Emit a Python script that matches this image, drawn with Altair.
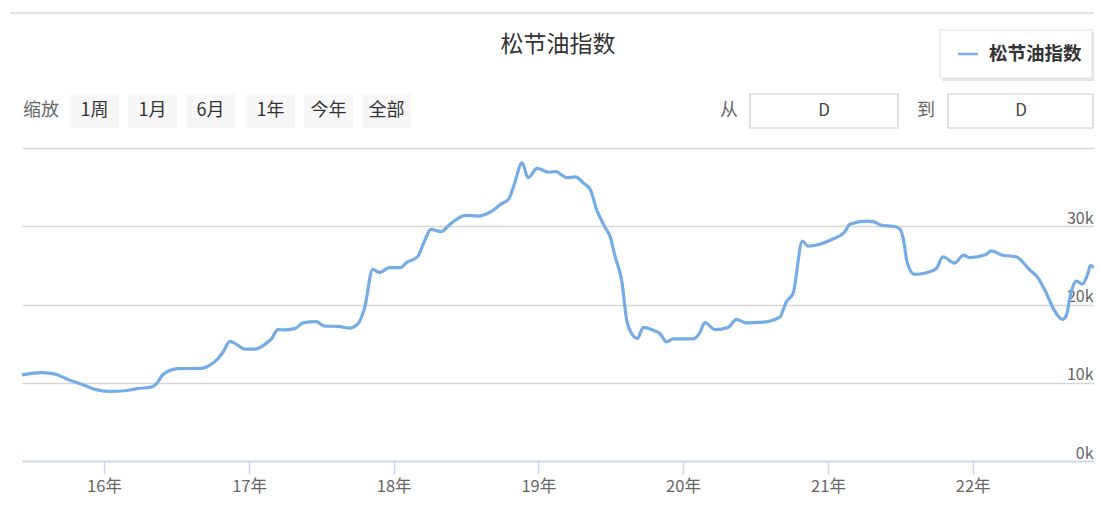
import altair as alt
import pandas as pd

FONT = "Noto Sans CJK SC"

# ---- data (decimal year, index value in thousands) ----
t_years = [
    2015.433, 2015.571, 2015.663, 2015.754, 2015.846, 2015.938, 2016.030, 2016.145,
    2016.236, 2016.317, 2016.363, 2016.408, 2016.512, 2016.673, 2016.730, 2016.787,
    2016.822, 2016.868, 2016.914, 2016.971, 2017.040, 2017.109, 2017.155, 2017.200,
    2017.247, 2017.320, 2017.373, 2017.465, 2017.522, 2017.614, 2017.694, 2017.751,
    2017.798, 2017.855, 2017.901, 2017.970, 2018.050, 2018.085, 2018.165, 2018.211,
    2018.257, 2018.326, 2018.395, 2018.498, 2018.578, 2018.681, 2018.739, 2018.796,
    2018.831, 2018.888, 2018.929, 2018.991, 2019.072, 2019.118, 2019.197, 2019.256,
    2019.313, 2019.359, 2019.404, 2019.462, 2019.497, 2019.531, 2019.576, 2019.611,
    2019.645, 2019.685, 2019.726, 2019.795, 2019.841, 2019.886, 2019.933, 2020.070,
    2020.116, 2020.151, 2020.220, 2020.311, 2020.368, 2020.437, 2020.552, 2020.667,
    2020.713, 2020.759, 2020.823, 2020.862, 2020.943, 2021.037, 2021.117, 2021.152,
    2021.267, 2021.312, 2021.358, 2021.473, 2021.503, 2021.530, 2021.546, 2021.599,
    2021.680, 2021.749, 2021.794, 2021.875, 2021.937, 2021.978, 2022.093, 2022.127,
    2022.207, 2022.300, 2022.345, 2022.391, 2022.448, 2022.506, 2022.563, 2022.620,
    2022.648, 2022.678, 2022.717, 2022.758, 2022.793, 2022.816, 2022.839,
]
values_k = [
    11.0, 11.3, 11.1, 10.4, 9.8, 9.15, 8.9, 8.98,
    9.28, 9.4, 9.9, 11.07, 11.8, 11.84, 12.26, 13.1,
    13.96, 15.3, 14.9, 14.3, 14.3, 14.9, 15.6, 16.8,
    16.75, 16.95, 17.66, 17.8, 17.24, 17.2, 16.99, 17.5,
    19.5, 24.5, 24.1, 24.7, 24.7, 25.3, 26.1, 28.0,
    29.6, 29.3, 30.36, 31.4, 31.3, 31.97, 32.8, 33.5,
    35.2, 38.1, 36.2, 37.4, 36.9, 37.0, 36.2, 36.3,
    35.5, 34.7, 32.06, 29.85, 28.65, 26.1, 23.1, 18.0,
    16.3, 15.67, 17.07, 16.7, 16.3, 15.24, 15.6, 15.6,
    16.4, 17.7, 16.8, 17.07, 18.1, 17.66, 17.75, 18.4,
    20.35, 21.4, 28.1, 27.46, 27.7, 28.4, 29.3, 30.27,
    30.65, 30.6, 30.2, 29.9, 29.5, 27.4, 25.45, 23.84,
    24.05, 24.6, 26.1, 25.3, 26.3, 26.0, 26.4, 26.86,
    26.3, 26.1, 25.45, 24.5, 23.5, 21.6, 19.3, 18.1,
    18.6, 21.4, 23.0, 22.6, 23.75, 25.0, 24.7,
]
year_ticks = [2016, 2017, 2018, 2019, 2020, 2021, 2022]
y_ticks = [0, 10000, 20000, 30000, 40000]
series_name = "松节油指数"
title_text = "松节油指数"
zoom_label = "缩放"
buttons = ["1周", "1月", "6月", "1年", "今年", "全部"]
from_label, to_label = "从", "到"
from_value, to_value = "D", "D"


def year_to_ms(t):
    y = int(t)
    start = pd.Timestamp(year=y, month=1, day=1)
    end = pd.Timestamp(year=y + 1, month=1, day=1)
    ts = start + (end - start) * (t - y)
    return int(ts.value // 10**6)


df = pd.DataFrame({
    "date": [year_to_ms(t) for t in t_years],
    "value": [v * 1000 for v in values_k],
})
tick_ms = [year_to_ms(y) for y in year_ticks]

LINE_COLOR = "#74ade5"
W, H = 1072, 313

line = alt.Chart(df).mark_line(
    color=LINE_COLOR, strokeWidth=3.2, interpolate="monotone"
).encode(
    x=alt.X(
        "date:T",
        scale=alt.Scale(type="utc", domain=[df["date"].min(), df["date"].max()], nice=False),
        axis=alt.Axis(
            values=tick_ms,
            labelExpr="utcFormat(datum.value, '%y') + '年'",
            grid=False, tickColor="#ccd6eb", tickSize=13, tickWidth=1.5,
            domainColor="#ccd6eb", domainWidth=1.5,
            labelFontSize=16.5, labelColor="#666666", labelFont=FONT,
            labelPadding=4, title=None, labelFlush=False,
        ),
    ),
    y=alt.Y(
        "value:Q",
        scale=alt.Scale(domain=[0, 40000], nice=False),
        axis=alt.Axis(
            orient="right", values=y_ticks,
            labelExpr="datum.value >= 40000 ? '' : (datum.value / 1000) + 'k'",
            grid=True, gridColor="#d6d6d6", gridWidth=1.5,
            domain=False, ticks=False,
            labelAlign="right", labelBaseline="alphabetic",
            labelPadding=-1, labelOffset=-3,
            labelFontSize=16, labelColor="#666666", labelFont=FONT,
            title=None, labelOverlap=False,
        ),
    ),
)

one = pd.DataFrame({"a": [0]})


def txt(s, x, y, size=16, color="#333333", weight="normal", align="center"):
    return alt.Chart(one).mark_text(
        text=s, fontSize=size, color=color, fontWeight=weight, align=align,
        baseline="middle", font=FONT,
    ).encode(x=alt.value(x), y=alt.value(y))


def box(x, x2, y, y2, fill, stroke=None, sw=1.0, opacity=1.0):
    kw = dict(fill=fill, opacity=opacity)
    if stroke:
        kw.update(stroke=stroke, strokeWidth=sw)
    return alt.Chart(one).mark_rect(**kw).encode(
        x=alt.value(x), x2=alt.value(x2), y=alt.value(y), y2=alt.value(y2)
    )


layers = []
# top separator
layers.append(alt.Chart(one).mark_rule(color="#e3e3e3", strokeWidth=2).encode(
    x=alt.value(-12), x2=alt.value(W), y=alt.value(-135)))
# title
layers.append(txt(title_text, 536, -103, size=23, color="#333333"))
# legend box
layers.append(box(920, 1072, -116, -67, "#000000", opacity=0.10))
layers.append(box(918, 1070, -118, -70, "#ffffff", stroke="#e2e2e2", sw=1))
layers.append(alt.Chart(one).mark_rule(color=LINE_COLOR, strokeWidth=2.5).encode(
    x=alt.value(936), x2=alt.value(956), y=alt.value(-94)))
layers.append(txt(series_name, 967, -94, size=18.5, weight="bold", align="left"))
# range selector
layers.append(txt(zoom_label, 19, -37, size=18, color="#666666"))
btn_left = [48, 106, 164, 224, 282, 340]
btn_w = 49
for lab, bx in zip(buttons, btn_left):
    layers.append(box(bx, bx + btn_w, -54, -20, "#f7f7f7"))
    layers.append(txt(lab, bx + btn_w / 2, -37, size=18, color="#333333"))
# date inputs
layers.append(txt(from_label, 707, -37, size=18, color="#666666"))
layers.append(box(728, 876, -54, -20, "#ffffff", stroke="#cccccc", sw=1.2))
layers.append(txt(from_value, 802, -37, size=17, color="#444444"))
layers.append(txt(to_label, 904, -37, size=18, color="#666666"))
layers.append(box(926, 1071, -54, -20, "#ffffff", stroke="#cccccc", sw=1.2))
layers.append(txt(to_value, 999, -37, size=17, color="#444444"))

chart = alt.layer(line, *layers).properties(
    width=W, height=H,
    padding={"left": 14, "top": 140, "right": 0, "bottom": 52},
    autosize=alt.AutoSizeParams(type="none"),
    background="#ffffff",
).configure_view(stroke=None)

chart.save("out.html", embed_options={"renderer": "svg", "actions": False})
